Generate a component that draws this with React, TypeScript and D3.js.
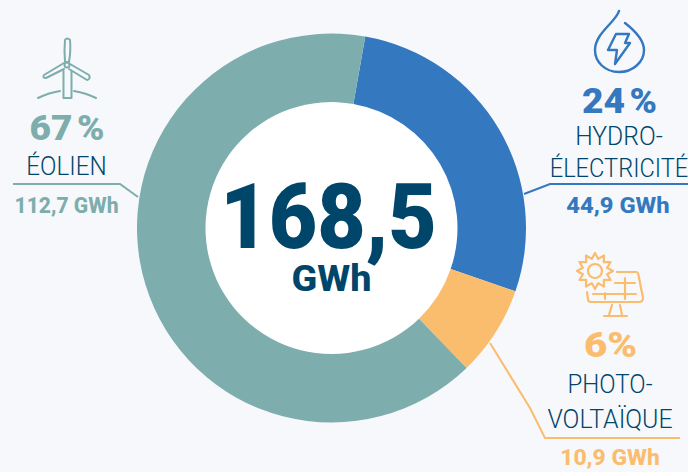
import * as d3 from 'd3';

const categories = ['hydro', 'pv', 'eolien'];
const ringDegrees = [99, 27, 234];
const colors = ['#3478bf', '#fabd6e', '#7daead'];
const TEAL = '#7daead';
const BLUE = '#3478bf';
const ORANGE = '#fabd6e';
const NAVY = '#00466a';
const FONT = "'Roboto', 'Inter', sans-serif";

const cx = 331.5;
const cy = 228;
const startDeg = 10;

const pie = d3
  .pie<number>()
  .sort(null)
  .startAngle((startDeg * Math.PI) / 180)
  .endAngle(((startDeg + 360) * Math.PI) / 180);
const arc = d3.arc<d3.PieArcDatum<number>>().innerRadius(126).outerRadius(194.5);
const line = d3.line();

// sun outline for the solar icon
const sunPath = d3
  .lineRadial<number>()
  .curve(d3.curveLinearClosed)
  .angle((i) => (i * Math.PI) / 12)
  .radius((i) => (i % 2 === 0 ? 18 : 12.5))(d3.range(24)) as string;

const Label = ({ x, y, text, color, size, weight, sx = 1 }: any) => (
  <text
    transform={`translate(${x},${y}) scale(${sx},1)`}
    textAnchor="middle"
    fontFamily={FONT}
    fontSize={size}
    fontWeight={weight}
    fill={color}
  >
    {text}
  </text>
);

const App = () => {
  const slices = pie(ringDegrees);
  return (
    <svg
      width={688}
      height={472}
      viewBox="0 0 688 472"
      style={{ position: 'absolute', left: 0, top: 0, background: '#f7f8fb' }}
    >
      <rect width={688} height={472} fill="#f7f8fb" />
      <circle cx={cx} cy={cy} r={127} fill="#fff" />
      <g transform={`translate(${cx},${cy})`}>
        {slices.map((s, i) => (
          <path key={categories[i]} d={arc(s) as string} fill={colors[i]} />
        ))}
      </g>

      <Label x={328.5} y={248} text="168,5" color={NAVY} size={91} weight={900} sx={0.92} />
      <Label x={331.5} y={291} text="GWh" color={NAVY} size={36} weight={800} sx={1.05} />

      {/* eolien */}
      <g fill="none" stroke={TEAL} strokeWidth={2} strokeLinecap="round" strokeLinejoin="round">
        <path d="M65 40 Q67 37 70 40 Q71 50 69 62 L65 62 Q64 50 65 40 Z" />
        <path d="M64 63 L44 75 Q42 78 46 78 L64 69" />
        <path d="M70 64 L89 75 Q91 79 87 80 L69 69" />
        <circle cx={67} cy={65} r={2.5} />
        <path d="M63.5 71 L63.5 98 L71.5 98 L71.5 71" />
        <path d="M38 98 Q48 93 60 91" />
        <path d="M74 91 Q86 93 96 98" />
      </g>
      <Label x={67} y={140} text={'67\u202f%'} color={TEAL} size={35} weight={900} sx={1.06} />
      <Label x={66.5} y={175} text="ÉOLIEN" color={NAVY} size={25} weight={300} sx={0.97} />
      <path d={line([[13, 184], [120, 184], [138, 197]]) as string} fill="none" stroke={TEAL} strokeWidth={2} />
      <Label x={66.5} y={213} text="112,7 GWh" color={TEAL} size={22} weight={800} sx={0.96} />

      {/* hydro */}
      <g fill="none" stroke={BLUE} strokeWidth={2.4} strokeLinecap="round" strokeLinejoin="round">
        <path d="M619 11 C616 22 595 33 595 50 C595 62 605 72 619 72 C633 72 644 62 644 50 C644 39 634 30 625 23" />
        <path d="M616 34 L629 34 L625 43 L630 43 L615 64 L617 50 L608 50 Z" />
      </g>
      <Label x={619.5} y={113} text={'24\u202f%'} color={BLUE} size={35} weight={900} sx={1.06} />
      <Label x={619} y={145} text="HYDRO-" color={NAVY} size={25} weight={300} sx={0.99} />
      <Label x={619} y={177} text="ÉLECTRICITÉ" color={NAVY} size={25} weight={300} sx={0.945} />
      <path d={line([[524, 194], [550, 184], [688, 184]]) as string} fill="none" stroke={BLUE} strokeWidth={2} />
      <Label x={618} y={213} text="44,9 GWh" color={BLUE} size={22} weight={800} sx={1.08} />

      {/* photovoltaique */}
      <g fill="none" stroke={ORANGE} strokeWidth={2.2} strokeLinecap="round" strokeLinejoin="round">
        <circle cx={595} cy={271} r={7} />
        <path d={sunPath} transform="translate(595,271)" />
        <path d="M617 272 L636 272 Q638 272 638.5 275 L643 298 Q643 302 639 302 L591 302 Q588 302 588 299 L587 292" />
        <path d="M593 294 L636 294" />
        <path d="M615 283 L635 283" />
        <path d="M625 278 L625 299" />
        <path d="M605 293 L605 299" />
        <path d="M612 305 L609 315 M620 305 L622 315 M604 316 L627 316" />
      </g>
      <Label x={610.5} y={357} text="6%" color={ORANGE} size={35} weight={900} sx={1.15} />
      <Label x={610} y={393} text="PHOTO-" color={NAVY} size={25} weight={300} sx={0.963} />
      <Label x={610} y={428} text="VOLTAÏQUE" color={NAVY} size={25} weight={300} sx={0.995} />
      <path d={line([[490, 343], [530, 408], [545, 438], [680, 438]]) as string} fill="none" stroke={ORANGE} strokeWidth={2} />
      <Label x={610} y={465} text="10,9 GWh" color={ORANGE} size={22} weight={800} sx={1.04} />
    </svg>
  );
};

export default App;
